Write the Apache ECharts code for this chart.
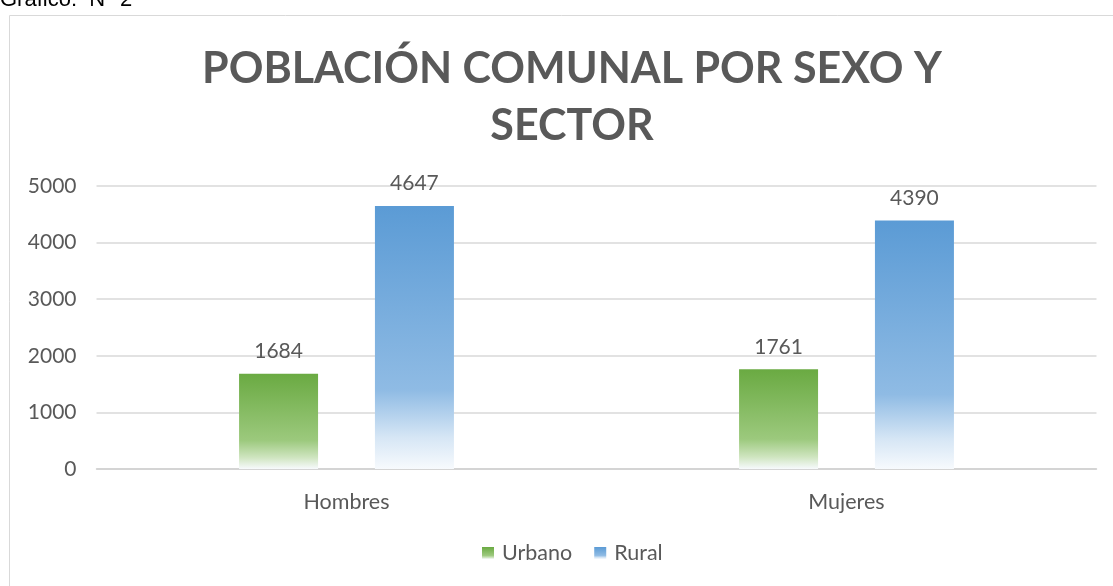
<!DOCTYPE html>
<html>
<head>
<meta charset="utf-8">
<script src="https://cdn.jsdelivr.net/npm/echarts@6/dist/echarts.min.js"></script>
<style>
html, body { margin: 0; padding: 0; background: #fff; }
#chart { width: 1113px; height: 586px; }
</style>
</head>
<body>
<div id="chart"></div>
<script>
var categories = ['Hombres', 'Mujeres'];
var urbano = [1684, 1761];
var rural = [4647, 4390];
var yTicks = [0, 1000, 2000, 3000, 4000, 5000];

function fade(top, mid, low) {
  return new echarts.graphic.LinearGradient(0, 0, 0, 1, [
    { offset: 0, color: top },
    { offset: 0.7, color: mid },
    { offset: 0.88, color: low },
    { offset: 1, color: '#f7fafd' }
  ]);
}

var myechart = echarts.init(document.getElementById('chart'));
myechart.setOption({
  textStyle: { fontFamily: 'Lato' },
  animation: false,
  graphic: [
    { type: 'rect', shape: { x: 9.5, y: 15.5, width: 1120, height: 600 },
      style: { fill: 'none', stroke: '#d9d9d9', lineWidth: 1 } },
    { type: 'text', left: 0, top: -11,
      style: { text: 'Gráfico:  N° 2', font: '22px Arial', fill: '#000' } }
  ],
  title: {
    text: 'POBLACIÓN COMUNAL POR SEXO Y\nSECTOR',
    left: 567, top: 36, textAlign: 'center',
    textStyle: { fontFamily: 'Lato', fontWeight: 'bold', fontSize: 43, color: '#595959', lineHeight: 57 }
  },
  legend: {
    bottom: 17, left: 477,
    itemWidth: 12, itemHeight: 12, itemGap: 22,
    icon: 'rect',
    textStyle: { fontSize: 21.5, color: '#595959', padding: [0, 0, 0, 3] },
    data: ['Urbano', 'Rural']
  },
  grid: { left: 96.5, right: 16.5, top: 186, bottom: 117 },
  xAxis: {
    type: 'category',
    data: categories,
    axisLine: { lineStyle: { color: '#d0d0d0', width: 1.5 } },
    axisTick: { show: false },
    axisLabel: { fontSize: 21.5, color: '#595959', margin: 22 }
  },
  yAxis: {
    type: 'value',
    min: yTicks[0], max: yTicks[yTicks.length - 1], interval: 1000,
    axisLine: { show: false },
    axisTick: { show: false },
    axisLabel: { fontSize: 21, color: '#595959', margin: 20, formatter: function (v) { return String(v); } },
    splitLine: { lineStyle: { color: '#d9d9d9', width: 1.5 } }
  },
  series: [
    {
      name: 'Urbano', type: 'bar', data: urbano,
      barWidth: 79, barGap: '72%',
      itemStyle: { color: fade('#6aaa42', '#9cc97d', '#cfe5c0') },
      label: { show: true, position: 'top', distance: 12, fontSize: 21, color: '#595959' }
    },
    {
      name: 'Rural', type: 'bar', data: rural,
      barWidth: 79,
      itemStyle: { color: fade('#5b9bd5', '#8fbbe4', '#d6e6f5') },
      label: { show: true, position: 'top', distance: 12, fontSize: 21, color: '#595959' }
    }
  ]
});
</script>
</body>
</html>
